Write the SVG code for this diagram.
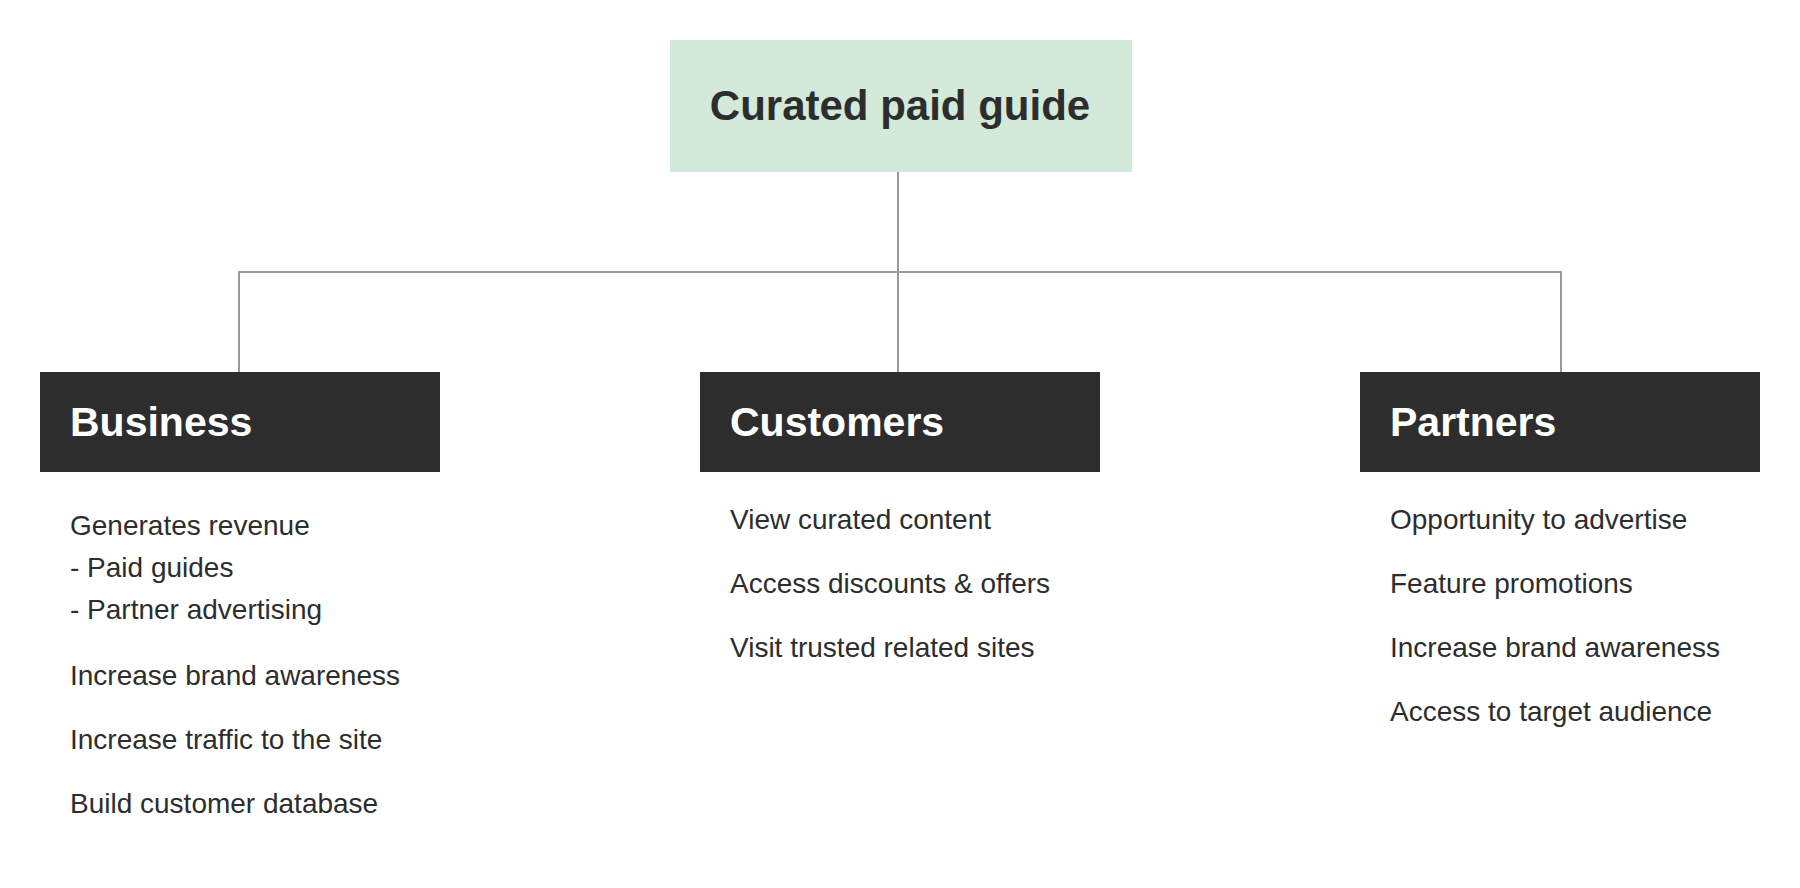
<svg xmlns="http://www.w3.org/2000/svg" width="1800" height="888" viewBox="0 0 1800 888">
  <style>
    .title { font-family: "Liberation Sans", Arial, sans-serif; font-weight: bold; font-size: 42px; }
    .head { font-family: "Liberation Sans", Arial, sans-serif; font-weight: bold; font-size: 41px; fill: #ffffff; }
    .item { font-family: "Liberation Sans", Arial, sans-serif; font-size: 28px; fill: #2d2d2d; }
    .dark { fill: #2d2d2d; }
    .conn { stroke: #999999; stroke-width: 2; fill: none; }
  </style>
  <rect width="1800" height="888" fill="#ffffff"/>
  <g id="connectors">
    <path class="conn" d="M898 172 V372"/>
    <path class="conn" d="M239 372 V272 H1561 V372"/>
  </g>
  <g id="root">
    <rect x="670" y="40" width="462" height="132" fill="#d3eadb"/>
    <text class="title" x="900" y="120" text-anchor="middle" fill="#2d2d2d">Curated paid guide</text>
  </g>
  <g id="business">
    <rect class="dark" x="40" y="372" width="400" height="100"/>
    <text class="head" x="70" y="436">Business</text>
    <text class="item" x="70" y="535">Generates revenue</text>
    <text class="item" x="70" y="577">- Paid guides</text>
    <text class="item" x="70" y="619">- Partner advertising</text>
    <text class="item" x="70" y="685">Increase brand awareness</text>
    <text class="item" x="70" y="749">Increase traffic to the site</text>
    <text class="item" x="70" y="813">Build customer database</text>
  </g>
  <g id="customers">
    <rect class="dark" x="700" y="372" width="400" height="100"/>
    <text class="head" x="730" y="436">Customers</text>
    <text class="item" x="730" y="529">View curated content</text>
    <text class="item" x="730" y="593">Access discounts &amp; offers</text>
    <text class="item" x="730" y="657">Visit trusted related sites</text>
  </g>
  <g id="partners">
    <rect class="dark" x="1360" y="372" width="400" height="100"/>
    <text class="head" x="1390" y="436">Partners</text>
    <text class="item" x="1390" y="529">Opportunity to advertise</text>
    <text class="item" x="1390" y="593">Feature promotions</text>
    <text class="item" x="1390" y="657">Increase brand awareness</text>
    <text class="item" x="1390" y="721">Access to target audience</text>
  </g>
</svg>
